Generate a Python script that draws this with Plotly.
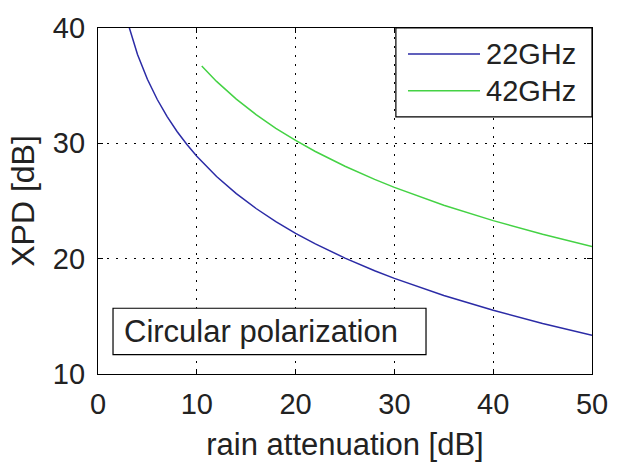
import plotly.graph_objects as go

# ---- data ----
atten_22 = [2, 3, 4, 5, 6, 7, 8, 9, 10, 12, 14, 16, 18, 20, 22, 25, 28, 30, 35, 40, 45, 50]
xpd_22 = [44.40, 40.49, 37.71, 35.56, 33.80, 32.32, 31.03, 29.90, 28.88, 27.12, 25.64,
          24.35, 23.21, 22.20, 21.28, 20.05, 18.95, 18.29, 16.80, 15.52, 14.38, 13.36]

atten_42 = [10.5, 12, 14, 16, 18, 20, 22, 25, 28, 30, 35, 40, 45, 50]
xpd_42 = [36.70, 35.37, 33.83, 32.49, 31.30, 30.25, 29.29, 28.01, 26.87, 26.18,
          24.63, 23.30, 22.11, 21.05]

series_names = ["22GHz", "42GHz"]
series_colors = ["#2b2ba6", "#44d244"]
x_ticks = [0, 10, 20, 30, 40, 50]
y_ticks = [10, 20, 30, 40]
x_title = "rain attenuation [dB]"
y_title = "XPD [dB]"
note_text = "Circular polarization"

FONT = "Liberation Sans"

fig = go.Figure()
for xs, ys, nm, col in [(atten_22, xpd_22, series_names[0], series_colors[0]),
                        (atten_42, xpd_42, series_names[1], series_colors[1])]:
    fig.add_trace(go.Scatter(x=xs, y=ys, mode="lines", name=nm,
                             line=dict(color=col, width=1.5), showlegend=False))

axis_common = dict(
    showline=True, mirror="ticks", linecolor="black", linewidth=1.2,
    ticks="inside", ticklen=5, tickcolor="black", tickwidth=1,
    showgrid=True, gridcolor="black", gridwidth=1, griddash="2px,7px",
    zeroline=False, tickfont=dict(family=FONT, size=29, color="#222"),
)

fig.update_xaxes(range=[0, 50], tickvals=x_ticks, **axis_common,
                 title=dict(text=x_title, font=dict(family=FONT, size=31, color="#222"),
                            standoff=14),
                 ticklabelstandoff=4)
fig.update_yaxes(range=[10, 40], tickvals=y_ticks, **axis_common,
                 title=dict(text=y_title, font=dict(family=FONT, size=32, color="#222"),
                            standoff=8),
                 ticklabelstandoff=6)

shapes = []
annotations = []

# legend box (manual, to match long legend lines)
shapes.append(dict(type="rect", xref="paper", yref="paper", x0=0.603, x1=1.0, y0=0.743, y1=1.0,
                   line=dict(color="black", width=1.2), fillcolor="white", layer="above"))
for i, (yy) in enumerate([0.9246, 0.8184]):
    shapes.append(dict(type="line", xref="paper", yref="paper", x0=0.6275, x1=0.7733, y0=yy, y1=yy,
                       line=dict(color=series_colors[i], width=1.5), layer="above"))
    annotations.append(dict(xref="paper", yref="paper", x=0.7814, y=yy, xanchor="left",
                            yanchor="middle", text=series_names[i], showarrow=False,
                            font=dict(family=FONT, size=29, color="#222")))

# note box
shapes.append(dict(type="rect", xref="paper", yref="paper", x0=0.0304, x1=0.664, y0=0.0559, y1=0.19,
                   line=dict(color="black", width=1.2), fillcolor="white", layer="above"))
annotations.append(dict(xref="paper", yref="paper", x=0.0486, y=0.1229, xanchor="left",
                        yanchor="middle", text=note_text, showarrow=False,
                        font=dict(family=FONT, size=31, color="#222")))

fig.update_layout(
    width=622, height=468,
    margin=dict(l=98, r=30, t=25, b=85),
    paper_bgcolor="white", plot_bgcolor="white",
    shapes=shapes, annotations=annotations,
    showlegend=False,
)

fig.write_html("out.html")
